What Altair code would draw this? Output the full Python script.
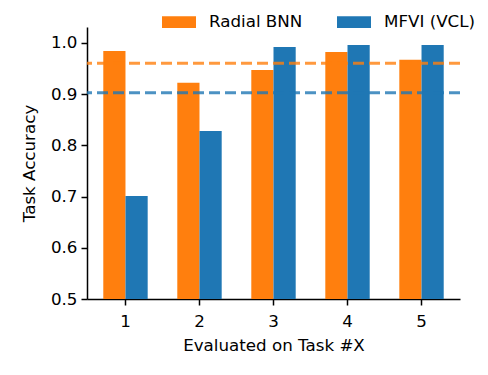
import altair as alt
import pandas as pd

tasks = ["1", "2", "3", "4", "5"]
series_names = ["Radial BNN", "MFVI (VCL)"]
radial_bnn = [0.984, 0.922, 0.947, 0.982, 0.967]
mfvi_vcl = [0.701, 0.828, 0.992, 0.996, 0.996]
colors = ["#ff7f0e", "#1f77b4"]
y_ticks = [0.5, 0.6, 0.7, 0.8, 0.9, 1.0]

rows = []
for t, a, b in zip(tasks, radial_bnn, mfvi_vcl):
    rows.append({"task": t, "series": series_names[0], "acc": a})
    rows.append({"task": t, "series": series_names[1], "acc": b})
df = pd.DataFrame(rows)

FONT = "DejaVu Sans"
FS = 16.7
color_scale = alt.Scale(domain=series_names, range=colors)
y_scale = alt.Scale(domain=[0.5, 1.031], nice=False, zero=False)

bars = alt.Chart(df).mark_bar(clip=True).encode(
    x=alt.X("task:N", sort=tasks,
            scale=alt.Scale(paddingInner=0.4, paddingOuter=0.22),
            axis=alt.Axis(title="Evaluated on Task #X", labelAngle=0,
                          labelPadding=8, titlePadding=8)),
    xOffset=alt.XOffset("series:N", sort=series_names,
                        scale=alt.Scale(paddingInner=0, paddingOuter=0)),
    y=alt.Y("acc:Q", scale=y_scale,
            axis=alt.Axis(title="Task Accuracy", values=y_ticks, format=".1f",
                          labelPadding=4, titlePadding=12)),
    color=alt.Color("series:N", scale=color_scale, sort=series_names,
                    legend=alt.Legend(
                        title=None, orient="none", direction="horizontal",
                        legendX=75, legendY=-22, padding=0,
                        symbolType="M-1,-0.35L1,-0.35L1,0.35L-1,0.35Z",
                        symbolSize=1156, symbolStrokeWidth=0, symbolOpacity=1,
                        labelFontSize=FS, labelFont=FONT, labelColor="black",
                        labelOffset=13, columnPadding=34)),
)

means = alt.Chart(df).transform_aggregate(
    mean_acc="mean(acc)", groupby=["series"]
).mark_rule(strokeDash=[11, 5], strokeWidth=3, opacity=0.8).encode(
    y=alt.Y("mean_acc:Q", scale=y_scale),
    color=alt.Color("series:N", scale=color_scale, legend=None),
)

chart = alt.layer(bars, means).resolve_legend(color="independent").properties(
    width=373, height=272,
    autosize=alt.AutoSizeParams(type="none"),
    padding={"left": 79, "top": 19, "right": 20, "bottom": 68},
).configure_view(stroke=None).configure_axis(
    grid=False, domainColor="black", domainWidth=1.5, tickColor="black",
    tickWidth=1.5, tickSize=6, labelFont=FONT, labelFontSize=FS,
    labelColor="black", titleFont=FONT, titleFontSize=FS,
    titleFontWeight="normal", titleColor="black",
)

chart.save("out.html", embed_options={"renderer": "svg", "actions": False})
